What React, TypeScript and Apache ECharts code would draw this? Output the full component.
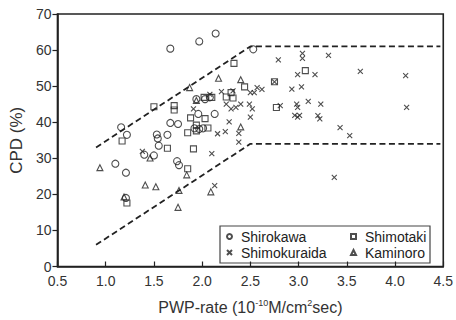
import React, { useEffect, useRef } from "react";
import * as echarts from "echarts";

const xTicks = [0.5, 1.0, 1.5, 2.0, 2.5, 3.0, 3.5, 4.0, 4.5];
const yTicks = [0, 10, 20, 30, 40, 50, 60, 70];

const shirokawa: number[][] = [
  [1.67, 60.4], [1.97, 62.4], [2.14, 64.6], [2.53, 60.2], [1.16, 38.6], [1.22, 36.5],
  [1.53, 36.6], [1.54, 35.5], [1.64, 36.5], [1.55, 33.5], [1.67, 39.8], [1.75, 39.5],
  [1.4, 31.0], [1.5, 30.8], [1.1, 28.5], [1.21, 26.0], [1.74, 29.2], [1.76, 28.1],
  [1.21, 19.0], [2.03, 46.4], [2.08, 46.9], [2.13, 42.3], [1.96, 42.3], [1.94, 46.4],
  [1.92, 38.3], [1.97, 38.1], [2.01, 38.3],
];

const shimotaki: number[][] = [
  [1.5, 44.3], [1.71, 44.6], [1.71, 43.4], [1.17, 34.8], [1.64, 32.8], [1.85, 27.1],
  [1.22, 17.6], [1.85, 37.1], [1.91, 32.6], [1.94, 37.6], [1.94, 39.2], [1.88, 41.2],
  [2.33, 56.3], [2.44, 49.8], [2.75, 51.2], [3.07, 54.3], [2.77, 44.1], [2.25, 47.0],
  [2.32, 46.7], [2.3, 48.2], [2.03, 41.0], [2.02, 46.9], [2.1, 46.9], [2.06, 38.4],
];

const shimokuraida: number[][] = [
  [3.04, 59.1], [3.04, 57.7], [3.31, 58.5], [3.17, 53.2], [3.64, 54.1], [4.11, 52.9],
  [3.03, 49.8], [3.1, 45.8], [3.23, 45.0], [4.12, 44.1], [3.2, 41.8], [3.22, 40.9],
  [3.43, 38.5], [3.53, 36.3], [3.37, 24.7], [2.79, 57.3], [2.99, 53.2], [2.57, 49.6],
  [2.62, 49.1], [2.93, 49.2], [2.81, 44.6], [2.98, 45.0], [2.99, 44.1], [2.96, 41.9],
  [2.99, 41.4], [2.2, 48.5], [2.32, 48.7], [2.5, 48.2], [2.54, 48.2], [2.25, 45.0],
  [2.3, 43.7], [2.35, 44.1], [2.4, 45.0], [2.49, 45.0], [2.52, 43.7], [1.91, 43.7],
  [2.08, 47.7], [2.5, 41.4], [2.28, 40.1], [2.16, 36.8], [2.24, 37.4], [2.38, 36.9],
  [2.38, 34.5], [2.1, 31.3], [2.13, 22.4], [1.38, 31.9], [3.01, 41.9], [2.75, 51.2],
];

const kaminoro: number[][] = [
  [0.94, 27.4], [1.19, 19.3], [1.41, 22.6], [1.52, 22.1], [1.46, 30.1], [1.84, 25.4],
  [1.76, 21.1], [1.75, 16.4], [1.87, 49.6], [1.94, 46.0], [2.17, 52.2], [2.4, 51.8],
  [2.4, 38.7], [2.09, 20.7],
];

const upperBound: number[][] = [[0.9, 33], [2.5, 61], [4.47, 61]];
const lowerBound: number[][] = [[0.9, 6], [2.5, 34], [4.47, 34]];

const INK = "#222";
const FONT = "Liberation Sans, Arial, sans-serif";
const CROSS = "path://M0,0L10,10M10,0L0,10";

function scatter(name: string, data: number[][], symbol: string, size: number) {
  return {
    name,
    type: "scatter",
    data,
    symbol,
    symbolSize: size,
    itemStyle: { color: "rgba(0,0,0,0)", borderColor: INK, borderWidth: 1.1 },
    emphasis: { disabled: true },
    z: 3,
  };
}

function bound(data: number[][]) {
  return {
    type: "line",
    data,
    symbol: "none",
    silent: true,
    lineStyle: { color: INK, width: 1.8, type: [6, 3.5] },
    z: 2,
  };
}

export default function App() {
  const ref = useRef<HTMLDivElement>(null);
  useEffect(() => {
    if (!ref.current) return;
    const chart = echarts.init(ref.current, null, { renderer: "svg" });
    const legendCommon = {
      orient: "vertical",
      top: 224,
      padding: 5,
      itemGap: 1,
      itemWidth: 5,
      itemHeight: 5,
      z: 20,
      textStyle: { fontFamily: FONT, fontSize: 14, lineHeight: 15, color: INK, padding: [0, 0, 0, 4] },
      selectedMode: false,
    };
    chart.setOption({
      animation: false,
      backgroundColor: "#fff",
      grid: {
        left: 53,
        right: 10,
        top: 14,
        bottom: 46,
        show: true,
        borderColor: INK,
        borderWidth: 1.6,
        backgroundColor: "rgba(0,0,0,0)",
      },
      xAxis: {
        type: "value",
        min: 0.5,
        max: 4.5,
        interval: 0.5,
        splitLine: { show: false },
        axisLine: { lineStyle: { color: INK, width: 1.6 } },
        axisTick: { inside: true, length: 5, lineStyle: { color: INK, width: 1.2 } },
        axisLabel: {
          fontFamily: FONT,
          fontSize: 14,
          color: "#333",
          margin: 7,
          formatter: (v: number) => v.toFixed(1),
        },
        name: "PWP-rate (10{sup|-10}M/cm{sup|2}sec)",
        nameLocation: "middle",
        nameGap: 32,
        nameTextStyle: {
          fontFamily: FONT,
          fontSize: 16,
          color: "#333",
          rich: { sup: { fontSize: 9, verticalAlign: "top", padding: [0, 0, 8, 0], color: "#333", fontFamily: FONT } },
        },
      },
      yAxis: {
        type: "value",
        min: 0,
        max: 70,
        interval: 10,
        splitLine: { show: false },
        axisLine: { lineStyle: { color: INK, width: 1.6 } },
        axisTick: { inside: false, length: 5, lineStyle: { color: INK, width: 1.2 } },
        axisLabel: { fontFamily: FONT, fontSize: 14, color: "#333", margin: 6 },
        name: "CPD (%)",
        nameLocation: "middle",
        nameGap: 32,
        nameTextStyle: { fontFamily: FONT, fontSize: 17, color: "#333" },
      },
      legend: [
        { ...legendCommon, left: 221, data: ["Shirokawa", "Shimokuraida"] },
        { ...legendCommon, left: 345, data: ["Shimotaki", "Kaminoro"] },
      ],
      graphic: [
        {
          type: "rect",
          shape: { x: 220, y: 226, width: 210, height: 37 },
          style: { fill: "#fff", stroke: "#444", lineWidth: 1.2 },
          z: 0,
        },
      ],
      series: [
        bound(upperBound),
        bound(lowerBound),
        scatter("Shirokawa", shirokawa, "circle", 7),
        scatter("Shimotaki", shimotaki, "rect", 6),
        scatter("Shimokuraida", shimokuraida, CROSS, 5),
        scatter("Kaminoro", kaminoro, "triangle", 6),
      ],
    });
    return () => chart.dispose();
  }, []);
  return <div ref={ref} style={{ width: 456, height: 320, position: "absolute", left: 0, top: 0 }} />;
}
